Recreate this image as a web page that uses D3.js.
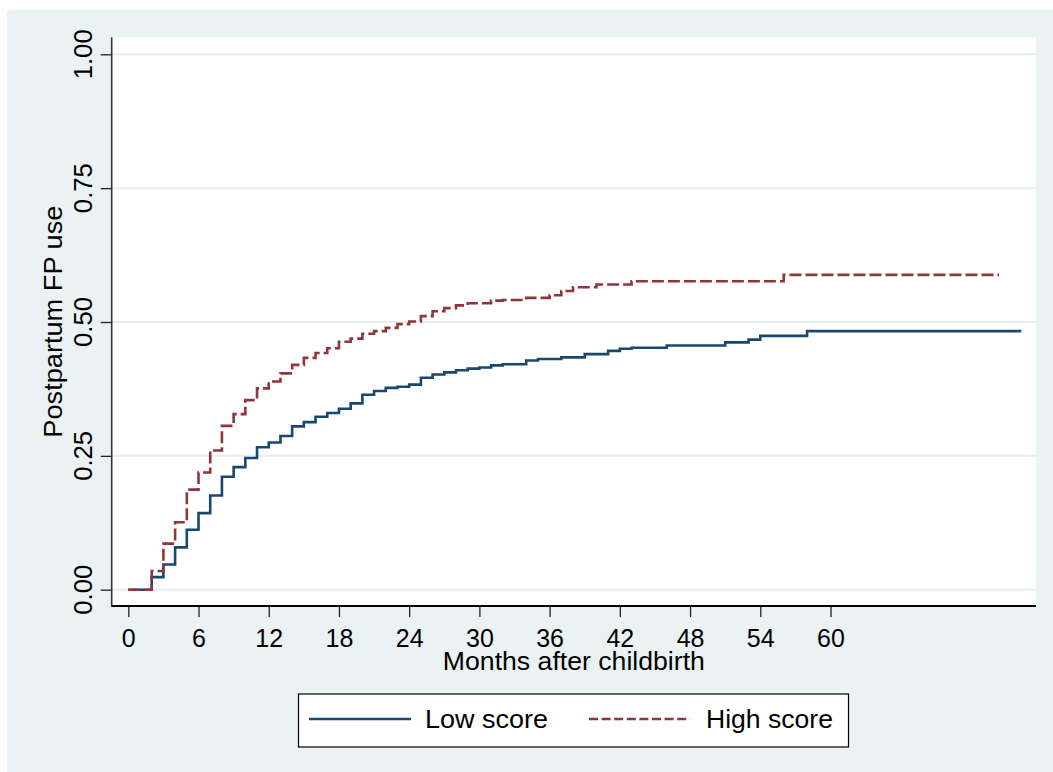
<!DOCTYPE html>
<html>
<head>
<meta charset="utf-8">
<script src="https://cdn.jsdelivr.net/npm/d3@7"></script>
<style>
  html, body { margin: 0; padding: 0; background: #ffffff; }
  svg { display: block; }
  text { font-family: "Liberation Sans", Arial, sans-serif; fill: #000; }
</style>
</head>
<body>
<svg id="chart" width="1053" height="772"></svg>
<script>
// ---- data ----
const xTicks = [0, 6, 12, 18, 24, 30, 36, 42, 48, 54, 60];
const yTicks = [0, 0.25, 0.5, 0.75, 1];
const yTickLabels = ["0.00", "0.25", "0.50", "0.75", "1.00"];
const seriesNames = ["Low score", "High score"];

const lowTime = [0,2,3,4,5,6,7,8,9,10,11,12,13,14,15,16,17,18,19,20,21,22,23,24,25,26,27,28,29,30,31,32,34,35,37,39,41,42,43,46,51,53,54,58,76.3];
const lowValue = [0,0.0235,0.047,0.079,0.112,0.143,0.176,0.211,0.229,0.246,0.266,0.275,0.287,0.305,0.313,0.323,0.330,0.338,0.348,0.364,0.371,0.377,0.379,0.383,0.396,0.402,0.406,0.410,0.413,0.415,0.419,0.421,0.428,0.431,0.434,0.440,0.446,0.450,0.452,0.456,0.462,0.467,0.474,0.483,0.483];

const highTime = [0,2,3,4,5,6,7,8,9,10,11,12,13,14,15,16,17,18,19,20,21,22,23,24,25,26,27,28,29,31,32,34,36,37,38,40,43,56,74.4];
const highValue = [0,0.035,0.086,0.126,0.187,0.219,0.260,0.306,0.328,0.354,0.376,0.389,0.404,0.420,0.433,0.442,0.451,0.463,0.469,0.478,0.483,0.489,0.496,0.501,0.511,0.520,0.526,0.531,0.535,0.540,0.541,0.545,0.550,0.558,0.565,0.570,0.576,0.588,0.588];

// ---- layout ----
const W = 1053, H = 772;
const plot = { left: 111.7, right: 1036, top: 37.3, bottom: 606 };
const colors = { low: "#1a476f", high: "#90353b", bg: "#eaf2f3", grid: "#e4eef0" };

const svg = d3.select("#chart");

// outer background
svg.append("rect").attr("x", 7).attr("y", 10).attr("width", W - 7).attr("height", H - 10)
  .attr("fill", colors.bg);
// plot region
svg.append("rect").attr("x", plot.left).attr("y", plot.top)
  .attr("width", plot.right - plot.left).attr("height", plot.bottom - plot.top)
  .attr("fill", "#ffffff");

const x = d3.scaleLinear().domain([0, 60]).range([128.3, 830.5]);
const y = d3.scaleLinear().domain([0, 1]).range([589.7, 54.3]);

// gridlines
svg.append("g").selectAll("line").data(yTicks).join("line")
  .attr("x1", plot.left).attr("x2", plot.right)
  .attr("y1", d => y(d)).attr("y2", d => y(d))
  .attr("stroke", colors.grid).attr("stroke-width", 2);

// y axis
const yAxis = d3.axisLeft(y).tickValues(yTicks).tickSize(11).tickPadding(0)
  .tickFormat((d, i) => yTickLabels[i]);
const gy = svg.append("g").attr("transform", `translate(${plot.left},0)`).call(yAxis);
gy.select(".domain").remove();
gy.selectAll(".tick line").attr("stroke", "#222").attr("stroke-width", 1.3);
gy.selectAll(".tick text").remove();
svg.append("line").attr("x1", plot.left).attr("x2", plot.left)
  .attr("y1", plot.top).attr("y2", plot.bottom + 0.8)
  .attr("stroke", "#333").attr("stroke-width", 1.6);
svg.append("g").selectAll("text").data(yTicks).join("text")
  .attr("transform", d => `translate(91.5,${y(d)}) rotate(-90)`)
  .attr("text-anchor", "middle")
  .attr("font-size", 25)
  .attr("textLength", 50).attr("lengthAdjust", "spacingAndGlyphs")
  .text((d, i) => yTickLabels[i]);

// x axis
const xAxis = d3.axisBottom(x).tickValues(xTicks).tickSize(11).tickPadding(0).tickFormat(d3.format("d"));
const gx = svg.append("g").attr("transform", `translate(0,${plot.bottom})`).call(xAxis);
gx.select(".domain").remove();
gx.selectAll(".tick line").attr("stroke", "#222").attr("stroke-width", 1.3);
gx.selectAll(".tick text").attr("y", 41).attr("dy", null)
  .attr("font-size", 25).attr("font-family", "Liberation Sans, Arial, sans-serif").attr("fill", "#000");
svg.append("line").attr("x1", plot.left).attr("x2", plot.right)
  .attr("y1", plot.bottom).attr("y2", plot.bottom)
  .attr("stroke", "#000").attr("stroke-width", 1.8);

// axis titles
svg.append("text").attr("x", (plot.left + plot.right) / 2).attr("y", 670)
  .attr("text-anchor", "middle").attr("font-size", 25)
  .attr("textLength", 262).attr("lengthAdjust", "spacingAndGlyphs")
  .text("Months after childbirth");
svg.append("text").attr("transform", `translate(62,${(plot.top + plot.bottom) / 2}) rotate(-90)`)
  .attr("text-anchor", "middle").attr("font-size", 25)
  .attr("textLength", 232).attr("lengthAdjust", "spacingAndGlyphs")
  .text("Postpartum FP use");

// step curves
const line = d3.line().curve(d3.curveStepAfter)
  .x(d => x(d[0])).y(d => y(d[1]));
const lowData = lowTime.map((t, i) => [t, lowValue[i]]);
const highData = highTime.map((t, i) => [t, highValue[i]]);

svg.append("path").datum(lowData).attr("d", line)
  .attr("fill", "none").attr("stroke", colors.low).attr("stroke-width", 2.6)
  .attr("stroke-linejoin", "miter");
svg.append("path").datum(highData).attr("d", line)
  .attr("fill", "none").attr("stroke", colors.high).attr("stroke-width", 2.6)
  .attr("stroke-dasharray", "12,4").attr("stroke-linejoin", "miter");

// legend
const lg = svg.append("g");
lg.append("rect").attr("x", 298.5).attr("y", 694).attr("width", 550).attr("height", 53)
  .attr("fill", "#ffffff").attr("stroke", "#000").attr("stroke-width", 1.2);
const legendItems = [
  { name: seriesNames[0], color: colors.low, dash: null, x1: 309, x2: 411, tx: 425, tl: 123 },
  { name: seriesNames[1], color: colors.high, dash: "9,3.6", x1: 589, x2: 690, tx: 706, tl: 127 }
];
legendItems.forEach(it => {
  lg.append("line").attr("x1", it.x1).attr("x2", it.x2).attr("y1", 719).attr("y2", 719)
    .attr("stroke", it.color).attr("stroke-width", 2.6)
    .attr("stroke-dasharray", it.dash);
  lg.append("text").attr("x", it.tx).attr("y", 728).attr("font-size", 25)
    .attr("textLength", it.tl).attr("lengthAdjust", "spacingAndGlyphs")
    .text(it.name);
});
</script>
</body>
</html>
